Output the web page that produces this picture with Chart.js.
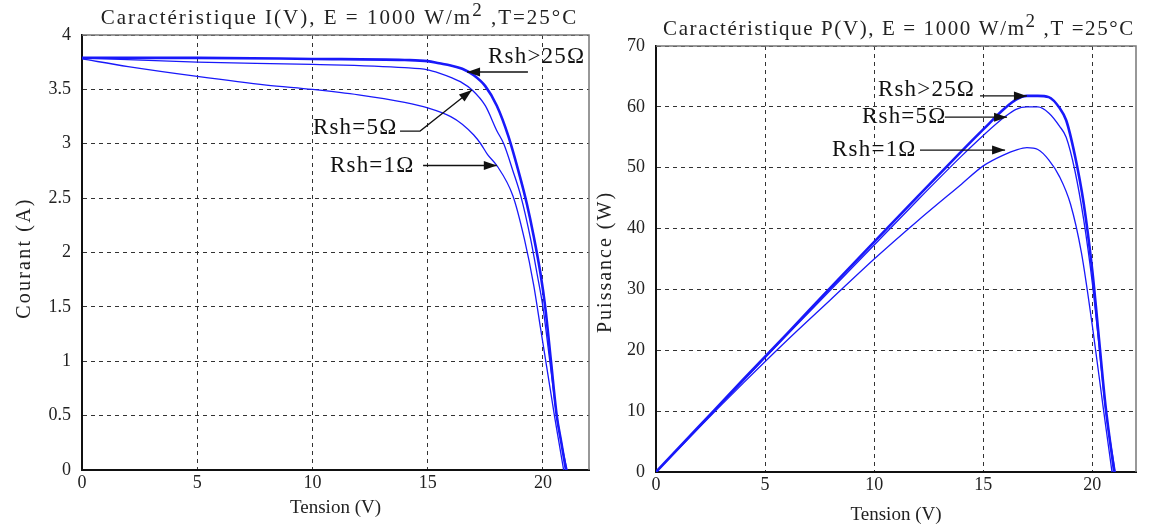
<!DOCTYPE html>
<html><head><meta charset="utf-8">
<script src="https://cdn.jsdelivr.net/npm/chart.js@4.4.1/dist/chart.umd.min.js"></script>
<style>
html,body{margin:0;padding:0;background:#fff;width:1151px;height:526px;overflow:hidden}
#wl{position:absolute;left:0;top:0;width:600px;height:526px}
#wr{position:absolute;left:590px;top:0;width:561px;height:526px}
</style></head><body>
<div id="wl"><canvas id="cl"></canvas></div>
<div id="wr"><canvas id="cr"></canvas></div>
<script>
// ---------- data ----------
const seriesNames = ['Rsh>25Ω', 'Rsh=5Ω', 'Rsh=1Ω'];
const xTicks = [0, 5, 10, 15, 20];
const xTickLabels = ['0', '5', '10', '15', '20'];
const yTicksI = [0, 0.5, 1, 1.5, 2, 2.5, 3, 3.5, 4];
const yTickLabelsI = ['0', '0.5', '1', '1.5', '2', '2.5', '3', '3.5', '4'];
const yTicksP = [0, 10, 20, 30, 40, 50, 60, 70];
const yTickLabelsP = ['0', '10', '20', '30', '40', '50', '60', '70'];

// I(V) curves
const vI25 = [0,5,10,14,15,15.5,16,16.5,17,17.5,18,18.5,19,19.3,19.6,19.9,20.1,20.35,20.6,20.8,21.0];
const iI25 = [3.79,3.79,3.78,3.77,3.76,3.74,3.72,3.69,3.63,3.53,3.35,3.07,2.70,2.45,2.15,1.80,1.50,1.00,0.50,0.25,0];
const vI5  = [0,5,10,14,15,15.5,16,16.5,16.9,17.5,18,18.3,18.7,19.04,19.47,19.75,20.0,20.3,20.6,20.85,21.05];
const iI5  = [3.79,3.75,3.73,3.70,3.68,3.65,3.61,3.56,3.50,3.35,3.12,3.0,2.75,2.52,2.12,1.80,1.50,1.00,0.50,0.20,0];
const vI1  = [0,2,5,8,10,12,14,15,16,16.5,17,17.3,17.6,18,18.7,19.2,19.6,19.9,20.2,20.5,20.7,20.9];
const iI1  = [3.78,3.71,3.62,3.54,3.50,3.45,3.38,3.33,3.25,3.18,3.08,3.0,2.9,2.8,2.52,2.12,1.70,1.30,0.90,0.50,0.25,0];

// P(V) curves
const vP25 = [0,2,4,6,8,10,12,14,15,16,16.5,17,17.5,18,18.5,18.8,19.2,19.6,20.0,20.3,20.6,21.0];
const pP25 = [0,7.6,15.2,22.7,30.3,37.8,45.3,52.7,56.3,59.8,61.2,61.8,61.8,61.6,59.8,57.8,52.0,44.2,33.0,22.0,11.0,0];
const vP5  = [0,2,4,6,8,10,12,14,15,16,16.5,17,17.5,18,18.5,18.8,19.2,19.6,20.0,20.3,20.6,21.05];
const pP5  = [0,7.55,15.0,22.5,29.9,37.3,44.7,51.9,55.3,58.4,59.6,60.0,60.0,59.0,56.8,55.0,49.5,41.5,31.0,21.0,10.5,0];
const vP1  = [0,2,4,6,8,10,12,14,15,16,16.5,17,17.5,18,18.5,19,19.5,20,20.5,20.9];
const pP1  = [0,7.4,14.6,21.6,28.3,35.0,41.3,47.3,50.3,52.2,52.9,53.3,53.0,51.3,48.5,44.0,36.0,24.0,10.5,0];

// ---------- styling ----------
const SERIF = "'Liberation Serif','DejaVu Serif',serif";
const BLUE = 'rgb(25,25,250)';
const TXT = '#222';

function pts(xs, ys) { return xs.map((x, i) => ({ x: x, y: ys[i] })); }

const titlePlugin = {
  id: 'ftitle',
  afterDraw(chart, args, o) {
    const ctx = chart.ctx, a = chart.chartArea;
    ctx.save();
    ctx.fillStyle = TXT; ctx.textBaseline = 'alphabetic'; ctx.textAlign = 'left';
    ctx.letterSpacing = o.spacing + 'px';
    const main = o.size + 'px ' + SERIF, sup = Math.round(o.size * 0.9) + 'px ' + SERIF;
    ctx.font = main; const w1 = ctx.measureText(o.before).width, w3 = ctx.measureText(o.after).width;
    ctx.font = sup; const w2 = ctx.measureText(o.sup).width;
    let x = (a.left + a.right) / 2 - (w1 + w2 + w3) / 2 + (o.dx || 0);
    ctx.font = main; ctx.fillText(o.before, x, o.y); x += w1;
    ctx.font = sup; ctx.fillText(o.sup, x, o.y - o.size * 0.4); x += w2;
    ctx.font = main; ctx.fillText(o.after, x, o.y);
    // rotated y-axis title
    ctx.font = o.ysize + 'px ' + SERIF;
    ctx.letterSpacing = o.yspacing + 'px';
    ctx.textAlign = 'center'; ctx.textBaseline = 'middle';
    ctx.translate(o.yx, o.yy); ctx.rotate(-Math.PI / 2);
    ctx.fillText(o.ytitle, 0, 0);
    ctx.restore();
  }
};

const boxPlugin = {
  id: 'box',
  afterDraw(chart) {
    const ctx = chart.ctx, a = chart.chartArea;
    ctx.save();
    ctx.strokeStyle = '#777'; ctx.lineWidth = 1.5;
    ctx.beginPath();
    ctx.moveTo(a.left, a.top); ctx.lineTo(a.right, a.top); ctx.lineTo(a.right, a.bottom);
    ctx.stroke();
    ctx.restore();
  }
};

const annotPlugin = {
  id: 'annot',
  afterDatasetsDraw(chart, args, o) {
    const ctx = chart.ctx, xs = chart.scales.x, ys = chart.scales.y;
    ctx.save();
    ctx.font = o.size + 'px ' + SERIF;
    ctx.letterSpacing = o.spacing + 'px';
    ctx.fillStyle = '#111'; ctx.strokeStyle = '#111'; ctx.lineWidth = 1.3;
    ctx.textBaseline = 'middle'; ctx.textAlign = 'left';
    o.items.forEach(it => {
      ctx.fillText(it.text, xs.getPixelForValue(it.tx), ys.getPixelForValue(it.ty));
      const p = it.path.map(q => [xs.getPixelForValue(q[0]), ys.getPixelForValue(q[1])]);
      ctx.beginPath(); ctx.moveTo(p[0][0], p[0][1]);
      for (let k = 1; k < p.length; k++) ctx.lineTo(p[k][0], p[k][1]);
      ctx.stroke();
      const [x2, y2] = p[p.length - 1], [x1, y1] = p[p.length - 2];
      const ang = Math.atan2(y2 - y1, x2 - x1), L = 13, W = 4.5;
      ctx.beginPath(); ctx.moveTo(x2, y2);
      ctx.lineTo(x2 - L * Math.cos(ang) + W * Math.sin(ang), y2 - L * Math.sin(ang) - W * Math.cos(ang));
      ctx.lineTo(x2 - L * Math.cos(ang) - W * Math.sin(ang), y2 - L * Math.sin(ang) + W * Math.cos(ang));
      ctx.closePath(); ctx.fill();
    });
    ctx.restore();
  }
};

function ds(label, data, w) {
  return { label: label, data: data, borderColor: BLUE, backgroundColor: BLUE, borderWidth: w,
           pointRadius: 0, fill: false, tension: 0, cubicInterpolationMode: 'monotone' };
}

function scales(c) {
  return {
    x: {
      type: 'linear', min: 0, max: 22,
      afterFit: s => { s.height = c.xh; },
      afterBuildTicks: s => { s.ticks = xTicks.map(v => ({ value: v })); },
      grid: { color: '#333', lineWidth: 1, drawTicks: false },
      border: { display: true, color: '#111', width: 2, dash: [4, 4] },
      ticks: { color: TXT, font: { family: SERIF, size: 18 }, padding: 2, maxRotation: 0,
               callback: (v, i) => xTickLabels[i] },
      title: { display: true, text: 'Tension (V)', color: TXT, font: { family: SERIF, size: 19 },
               padding: { top: 0, bottom: c.xtp } }
    },
    y: {
      type: 'linear', min: 0, max: c.ymax,
      afterFit: s => { s.width = c.yw; },
      afterBuildTicks: s => { s.ticks = c.yticks.map(v => ({ value: v })); },
      grid: { color: '#333', lineWidth: 1, drawTicks: false },
      border: { display: true, color: '#111', width: 2, dash: [4, 4] },
      ticks: { color: TXT, font: { family: SERIF, size: 18 }, padding: 11,
               callback: (v, i) => c.ylabels[i] },
      title: { display: false }
    }
  };
}

Chart.defaults.devicePixelRatio = 1;

new Chart(document.getElementById('cl'), {
  type: 'line',
  data: { datasets: [
    ds(seriesNames[2], pts(vI1, iI1), 1.3),
    ds(seriesNames[1], pts(vI5, iI5), 1.3),
    ds(seriesNames[0], pts(vI25, iI25), 2.6)
  ]},
  options: {
    responsive: true, maintainAspectRatio: false, animation: false,
    layout: { padding: { top: 35, right: 11, left: 0, bottom: 0 } },
    scales: scales({ xh: 56, yw: 82, ymax: 4, yticks: yTicksI, ylabels: yTickLabelsI, xtp: 6.6 }),
    plugins: {
      legend: { display: false }, tooltip: { enabled: false },
      ftitle: { size: 21, spacing: 2, y: 24, before: 'Caractéristique I(V), E = 1000 W/m', sup: '2',
                after: ' ,T=25°C', dx: 4,
                ytitle: 'Courant (A)', ysize: 20, yspacing: 2.2, yx: 25, yy: 258 },
      annot: { size: 23, spacing: 1.2, items: [
        { text: seriesNames[0], tx: 17.62, ty: 3.80, path: [[19.35, 3.66], [16.71, 3.66]] },
        { text: seriesNames[1], tx: 10.02, ty: 3.145, path: [[13.80, 3.117], [14.67, 3.117], [16.92, 3.494]] },
        { text: seriesNames[2], tx: 10.76, ty: 2.80, path: [[14.80, 2.80], [18.0, 2.80]] }
      ]}
    }
  },
  plugins: [titlePlugin, boxPlugin, annotPlugin]
});

new Chart(document.getElementById('cr'), {
  type: 'line',
  data: { datasets: [
    ds(seriesNames[2], pts(vP1, pP1), 1.3),
    ds(seriesNames[1], pts(vP5, pP5), 1.3),
    ds(seriesNames[0], pts(vP25, pP25), 2.6)
  ]},
  options: {
    responsive: true, maintainAspectRatio: false, animation: false,
    layout: { padding: { top: 46, right: 15, left: 0, bottom: 0 } },
    scales: scales({ xh: 54, yw: 66, ymax: 70, yticks: yTicksP, ylabels: yTickLabelsP, xtp: 0 }),
    plugins: {
      legend: { display: false }, tooltip: { enabled: false },
      ftitle: { size: 21, spacing: 1.6, y: 35, before: 'Caractéristique P(V), E = 1000 W/m', sup: '2',
                after: ' ,T =25°C', dx: 3,
                ytitle: 'Puissance (W)', ysize: 20, yspacing: 2, yx: 16, yy: 262 },
      annot: { size: 23, spacing: 1.2, items: [
        { text: seriesNames[0], tx: 10.17, ty: 62.8, path: [[14.85, 61.8], [17.0, 61.8]] },
        { text: seriesNames[1], tx: 9.44, ty: 58.3, path: [[13.24, 58.3], [16.09, 58.3]] },
        { text: seriesNames[2], tx: 8.07, ty: 52.9, path: [[12.1, 52.9], [16.0, 52.9]] }
      ]}
    }
  },
  plugins: [titlePlugin, boxPlugin, annotPlugin]
});
</script>
</body></html>
